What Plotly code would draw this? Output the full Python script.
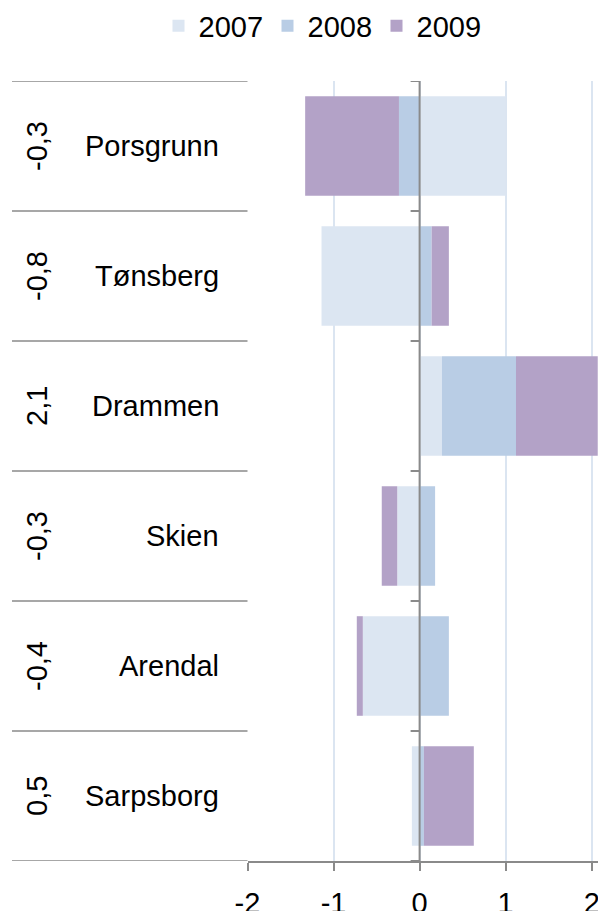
import plotly.graph_objects as go

cities = ["Porsgrunn", "Tønsberg", "Drammen", "Skien", "Arendal", "Sarpsborg"]
totals = ["-0,3", "-0,8", "2,1", "-0,3", "-0,4", "0,5"]
v2007 = [1.00, -1.14, 0.26, -0.26, -0.66, -0.09]
v2008 = [-0.24, 0.14, 0.86, 0.18, 0.34, 0.05]
v2009 = [-1.09, 0.20, 0.95, -0.18, -0.07, 0.58]
series = [("2007", v2007, "#dce6f2"), ("2008", v2008, "#b9cde5"), ("2009", v2009, "#b3a2c7")]
xticks = [-2, -1, 0, 1, 2]

W, H = 598, 911
TOP, BOT = 81, 50
PH = H - TOP - BOT
dom0 = 247.5 / W
FONT = "Liberation Sans, Arial, sans-serif"
FS = 29
GREY = "#8a8a8a"

fig = go.Figure()
for name, vals, col in series:
    fig.add_trace(go.Bar(y=cities, x=vals, orientation="h", name=name,
                         marker=dict(color=col, line=dict(width=0))))

n = len(cities)
bounds = [i - 0.5 for i in range(n + 1)]
shapes = []
# left table separators
for b in bounds:
    shapes.append(dict(type="line", xref="paper", yref="y", x0=12 / W, x1=dom0, y0=b, y1=b,
                       line=dict(color=GREY, width=1.6)))
# zero axis line
shapes.append(dict(type="line", xref="x", yref="y", x0=0, x1=0, y0=bounds[0], y1=bounds[-1],
                   line=dict(color=GREY, width=2)))
# tick marks on zero axis
for b in bounds:
    shapes.append(dict(type="line", xref="x", xsizemode="pixel", xanchor=0, x0=-9, x1=0,
                       yref="y", y0=b, y1=b, line=dict(color=GREY, width=2)))

annotations = []
for c, t in zip(cities, totals):
    annotations.append(dict(x=221 / W, xref="paper", y=c, yref="y", text=c, showarrow=False,
                            xanchor="right", yanchor="middle", font=dict(size=FS, color="black", family=FONT)))
    annotations.append(dict(x=37 / W, xref="paper", y=c, yref="y", text=t, showarrow=False,
                            textangle=-90, xanchor="center", yanchor="middle",
                            font=dict(size=FS, color="black", family=FONT)))

fig.update_layout(
    width=W, height=H,
    margin=dict(l=0, r=0, t=TOP, b=BOT, autoexpand=False),
    paper_bgcolor="white", plot_bgcolor="white",
    barmode="relative", bargap=0.234,
    font=dict(family=FONT, size=FS, color="black"),
    showlegend=True,
    legend=dict(orientation="h", x=322 / W, xanchor="center", y=1 + 55 / PH, yanchor="middle",
                font=dict(size=FS, color="black", family=FONT), entrywidth=64, traceorder="normal",
                bgcolor="rgba(0,0,0,0)"),
    xaxis=dict(domain=[dom0, 1], range=[-2, 2.073], tickvals=xticks, ticktext=[str(v) for v in xticks],
               showgrid=True, gridcolor="#dbe5f1", gridwidth=2, zeroline=False,
               showline=True, linecolor=GREY, linewidth=1.6, automargin=False,
               ticks="outside", ticklen=8, tickwidth=1.6, tickcolor=GREY, ticklabeloverflow="allow",
               tickfont=dict(size=FS, color="black", family=FONT), ticklabelstandoff=7),
    yaxis=dict(categoryorder="array", categoryarray=cities, range=[n - 0.5, -0.5], automargin=False,
               showticklabels=False, showgrid=False, zeroline=False, showline=False, ticks=""),
    shapes=shapes, annotations=annotations,
)

fig.write_html("out.html", config={"displayModeBar": False},
               post_script="document.body.style.margin='0';document.body.style.overflow='hidden';")
